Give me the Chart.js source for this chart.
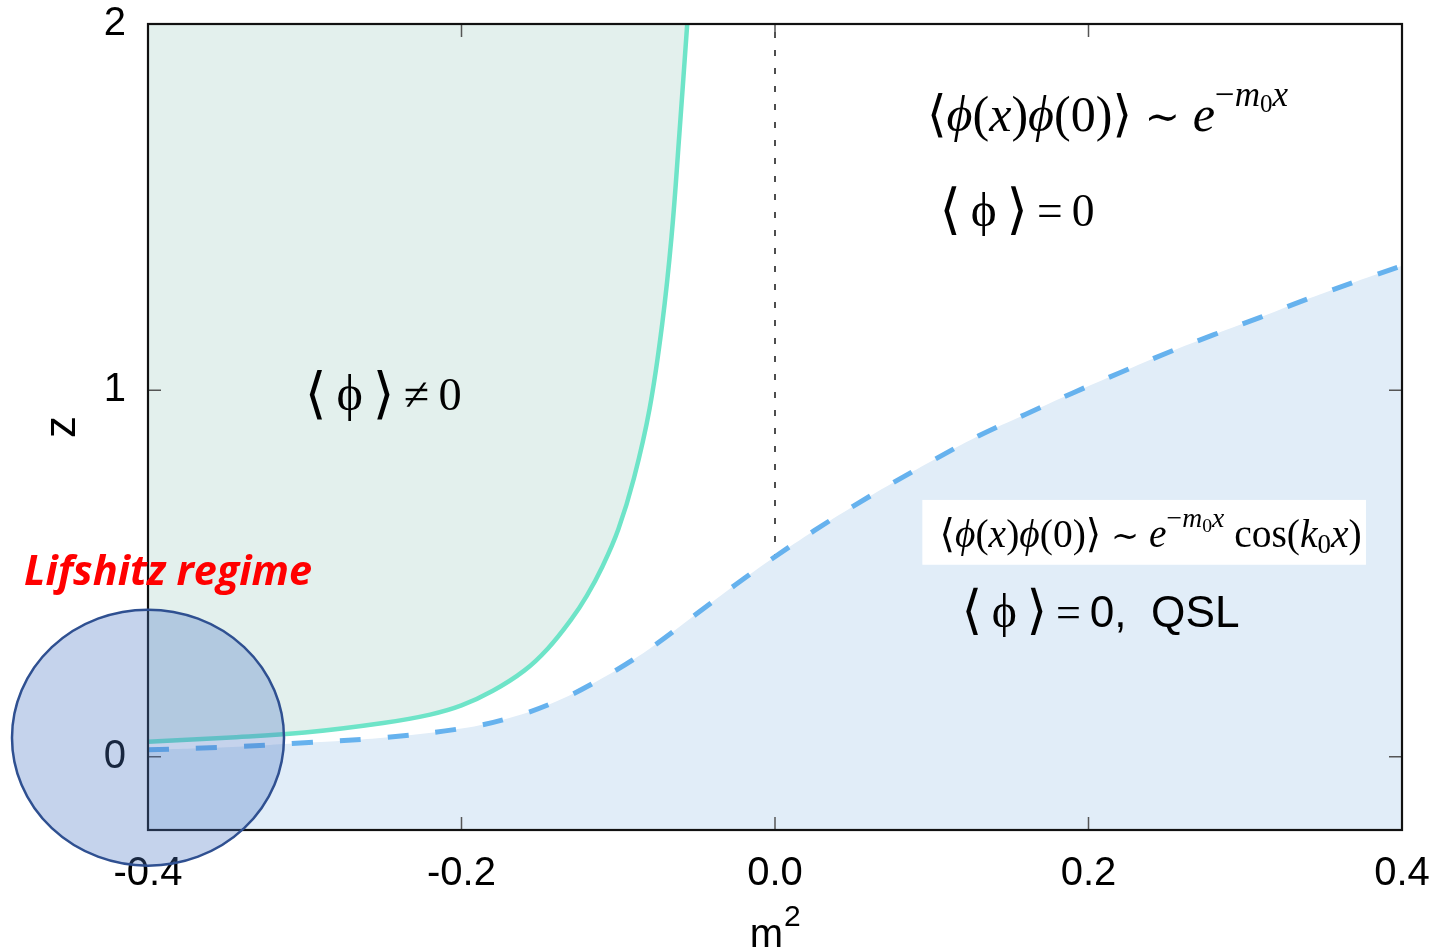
<!DOCTYPE html>
<html>
<head>
<meta charset="utf-8">
<script src="https://cdn.jsdelivr.net/npm/chart.js@4"></script>
<style>
  body { margin: 0; background: #fff; }
  #wrap { width: 1435px; height: 952px; }
</style>
</head>
<body>
<div id="wrap"><canvas id="phaseChart" width="1435" height="952"></canvas></div>
<script>
// ordered phase boundary (solid line), <phi> != 0 to its left
var mOrdered = [-0.4, -0.35, -0.3, -0.25, -0.22, -0.2, -0.18, -0.16, -0.145, -0.13, -0.12, -0.11, -0.1, -0.09, -0.08, -0.072, -0.066, -0.061, -0.056];
var zOrdered = [0.041, 0.052, 0.066, 0.092, 0.115, 0.14, 0.18, 0.235, 0.295, 0.375, 0.44, 0.52, 0.62, 0.76, 0.95, 1.18, 1.42, 1.70, 2.0];

// QSL boundary (dashed line), oscillating correlations below it
var mQsl = [-0.4, -0.35, -0.3, -0.25, -0.2, -0.17, -0.14, -0.11, -0.08, -0.05, -0.025, 0, 0.025, 0.05, 0.075, 0.1, 0.13, 0.16, 0.19, 0.22, 0.25, 0.28, 0.31, 0.34, 0.37, 0.4];
var zQsl = [0.019, 0.026, 0.038, 0.052, 0.077, 0.105, 0.15, 0.215, 0.295, 0.39, 0.47, 0.546, 0.617, 0.684, 0.747, 0.807, 0.876, 0.935, 0.993, 1.048, 1.102, 1.152, 1.20, 1.25, 1.296, 1.34];

// dotted guide lines m^2 = 0 and z = 0
var guideH = [[-0.4, 0], [0.4, 0]];
var guideV = [[0, -0.2], [0, 2]];

var xTicks = [-0.4, -0.2, 0, 0.2, 0.4];
var yTicks = [0, 1, 2];

const SERIF = '"Liberation Serif", "DejaVu Serif", serif';
const SANS = '"Liberation Sans", Arial, sans-serif';
const TS = '\u2009';

Chart.defaults.font.family = SANS;
Chart.defaults.color = '#000';

function pts(xs, ys) {
  return xs.map((x, i) => ({ x: x, y: ys[i] }));
}

// draw a run of text pieces: [text, style, family, sizeFactor, baselineShift]
function drawRich(ctx, segs, left, base, width, size) {
  const fontOf = (s, k) => s[1] + ' ' + (k * s[3]).toFixed(2) + 'px ' + s[2];
  let w = 0;
  segs.forEach(s => { ctx.font = fontOf(s, size); w += ctx.measureText(s[0]).width; });
  const k = width ? size * width / w : size;
  let cx = left;
  ctx.textAlign = 'left';
  ctx.textBaseline = 'alphabetic';
  segs.forEach(s => {
    ctx.font = fontOf(s, k);
    ctx.fillText(s[0], cx, base + s[4] * k);
    cx += ctx.measureText(s[0]).width;
  });
}

const corrSegs = [
  ['⟨', 'normal', SERIF, 1, 0],
  ['ϕ', 'italic', SERIF, 1, 0],
  ['(', 'normal', SERIF, 1, 0],
  ['x', 'italic', SERIF, 1, 0],
  [')', 'normal', SERIF, 1, 0],
  ['ϕ', 'italic', SERIF, 1, 0],
  ['(0)⟩ ', 'normal', SERIF, 1, 0],
  ['∼', 'normal', SERIF, 0.85, 0],
  [' ', 'normal', SERIF, 1, 0],
  ['e', 'italic', SERIF, 1, 0],
  ['−', 'normal', SERIF, 0.7, -0.5],
  ['m', 'italic', SERIF, 0.7, -0.5],
  ['0', 'normal', SERIF, 0.5, -0.38],
  ['x', 'italic', SERIF, 0.7, -0.5]
];
const cosSegs = corrSegs.concat([
  [' cos(', 'normal', SERIF, 1, 0],
  ['k', 'italic', SERIF, 1, 0],
  ['0', 'normal', SERIF, 0.68, 0.15],
  ['x', 'italic', SERIF, 1, 0],
  [')', 'normal', SERIF, 1, 0]
]);
const braSegs = [
  ['⟨', 'normal', SERIF, 1.2, 0.04],
  [TS + 'ϕ' + TS, 'normal', SERIF, 1.08, 0],
  ['⟩', 'normal', SERIF, 1.2, 0.04],
  [TS, 'normal', SERIF, 1, 0]
];

const decor = {
  id: 'decor',
  afterDatasetsDraw(chart) {
    const { ctx, chartArea: a, scales: { x, y } } = chart;
    ctx.save();
    // inward ticks on all four sides
    ctx.strokeStyle = '#555';
    ctx.lineWidth = 1.5;
    ctx.beginPath();
    xTicks.forEach(v => {
      const px = x.getPixelForValue(v);
      ctx.moveTo(px, a.bottom); ctx.lineTo(px, a.bottom - 13);
      ctx.moveTo(px, a.top); ctx.lineTo(px, a.top + 13);
    });
    yTicks.forEach(v => {
      const py = y.getPixelForValue(v);
      ctx.moveTo(a.left, py); ctx.lineTo(a.left + 13, py);
      ctx.moveTo(a.right, py); ctx.lineTo(a.right - 13, py);
    });
    ctx.stroke();
    // frame
    ctx.strokeStyle = '#111';
    ctx.lineWidth = 2.2;
    ctx.strokeRect(a.left, a.top, a.right - a.left, a.bottom - a.top);

    ctx.fillStyle = '#000';
    // correlator, disordered phase
    drawRich(ctx, corrSegs, x.getPixelForValue(0.097), y.getPixelForValue(1.708), 361, 40);
    drawRich(ctx, braSegs.concat([['=' + TS + '0', 'normal', SERIF, 1, 0]]),
      x.getPixelForValue(0.105), y.getPixelForValue(1.449), 155, 46);
    // ordered phase
    drawRich(ctx, braSegs.concat([['≠' + TS + '0', 'normal', SERIF, 1, 0]]),
      x.getPixelForValue(-0.3), y.getPixelForValue(0.947), 157, 46);
    // QSL box
    const bx0 = x.getPixelForValue(0.094), bx1 = x.getPixelForValue(0.377);
    const by0 = y.getPixelForValue(0.701), by1 = y.getPixelForValue(0.524);
    ctx.fillStyle = '#fff';
    ctx.fillRect(bx0, by0, bx1 - bx0, by1 - by0);
    ctx.fillStyle = '#000';
    drawRich(ctx, cosSegs, x.getPixelForValue(0.105), y.getPixelForValue(0.572), 422, 36);
    drawRich(ctx, braSegs.concat([['=' + TS, 'normal', SERIF, 1, 0], ['0,  QSL', 'normal', SANS, 1, 0]]),
      x.getPixelForValue(0.119), y.getPixelForValue(0.355), 278, 44);

    // axis title m^2
    const mx = x.getPixelForValue(0);
    ctx.font = '40px ' + SANS;
    ctx.textAlign = 'right';
    ctx.textBaseline = 'alphabetic';
    ctx.fillText('m', mx + 8, 947);
    ctx.font = '30px ' + SANS;
    ctx.textAlign = 'left';
    ctx.fillText('2', mx + 9, 926);
    ctx.restore();
  },
  afterDraw(chart) {
    const { ctx, scales: { x, y } } = chart;
    ctx.save();
    // Lifshitz regime marker
    const cx = x.getPixelForValue(-0.4), cy = y.getPixelForValue(0.052);
    ctx.beginPath();
    ctx.ellipse(cx, cy, 136, 128, 0, 0, Math.PI * 2);
    ctx.fillStyle = 'rgba(74,117,196,0.32)';
    ctx.fill();
    ctx.strokeStyle = 'rgb(47,80,145)';
    ctx.lineWidth = 2.5;
    ctx.stroke();
    ctx.fillStyle = '#ff0000';
    drawRich(ctx, [['Lifshitz regime', 'italic bold', '"Open Sans", "DejaVu Sans", sans-serif', 1, 0]],
      24, y.getPixelForValue(0.47), 288, 40);
    ctx.restore();
  }
};

var phaseChart;

function initChart() {
  const ctx = document.getElementById('phaseChart').getContext('2d');
  phaseChart = new Chart(ctx, {
    type: 'line',
    data: {
      datasets: [{
        label: 'ordered',
        data: pts(mOrdered, zOrdered),
        borderColor: 'rgb(110,228,200)',
        backgroundColor: 'rgb(227,240,237)',
        borderWidth: 4.5,
        fill: 'end',
        tension: 0.4,
        pointRadius: 0
      }, {
        label: 'QSL',
        data: pts(mQsl, zQsl),
        borderColor: 'rgb(102,178,238)',
        backgroundColor: 'rgb(225,237,248)',
        borderWidth: 5,
        borderDash: [21, 27],
        fill: 'start',
        tension: 0.4,
        pointRadius: 0
      }, {
        label: 'z=0',
        data: guideH.map(p => ({ x: p[0], y: p[1] })),
        borderColor: '#333',
        borderWidth: 1.6,
        borderDash: [6, 12],
        fill: false,
        pointRadius: 0
      }, {
        label: 'm2=0',
        data: guideV.map(p => ({ x: p[0], y: p[1] })),
        borderColor: '#222',
        borderWidth: 1.6,
        borderDash: [6, 12],
        fill: false,
        pointRadius: 0
      }]
    },
    options: {
      responsive: false,
      animation: false,
      layout: { padding: { top: 24, right: 33, left: 0, bottom: 0 } },
      plugins: { legend: { display: false }, tooltip: { enabled: false } },
      scales: {
        x: {
          type: 'linear',
          min: -0.4,
          max: 0.4,
          afterBuildTicks: s => { s.ticks = xTicks.map(v => ({ value: v })); },
          afterFit: s => { s.height = 122; s.paddingLeft = 0; s.paddingRight = 0; },
          grid: { display: false, drawTicks: false },
          border: { display: false },
          ticks: {
            padding: 20,
            font: { size: 40 },
            callback: v => (Math.abs(v) < 1e-9 ? 0 : v).toFixed(1)
          }
        },
        y: {
          type: 'linear',
          min: -0.2,
          max: 2,
          afterBuildTicks: s => { s.ticks = yTicks.map(v => ({ value: v })); },
          afterFit: s => { s.width = 148; s.paddingTop = 0; s.paddingBottom = 0; },
          grid: { display: false, drawTicks: false },
          border: { display: false },
          ticks: { padding: 22, font: { size: 40 } },
          title: {
            display: true,
            text: 'z',
            font: { size: 44 },
            padding: { top: 36, bottom: 0 }
          }
        }
      }
    },
    plugins: [decor]
  });
}

window.addEventListener('load', initChart);
</script>
</body>
</html>
